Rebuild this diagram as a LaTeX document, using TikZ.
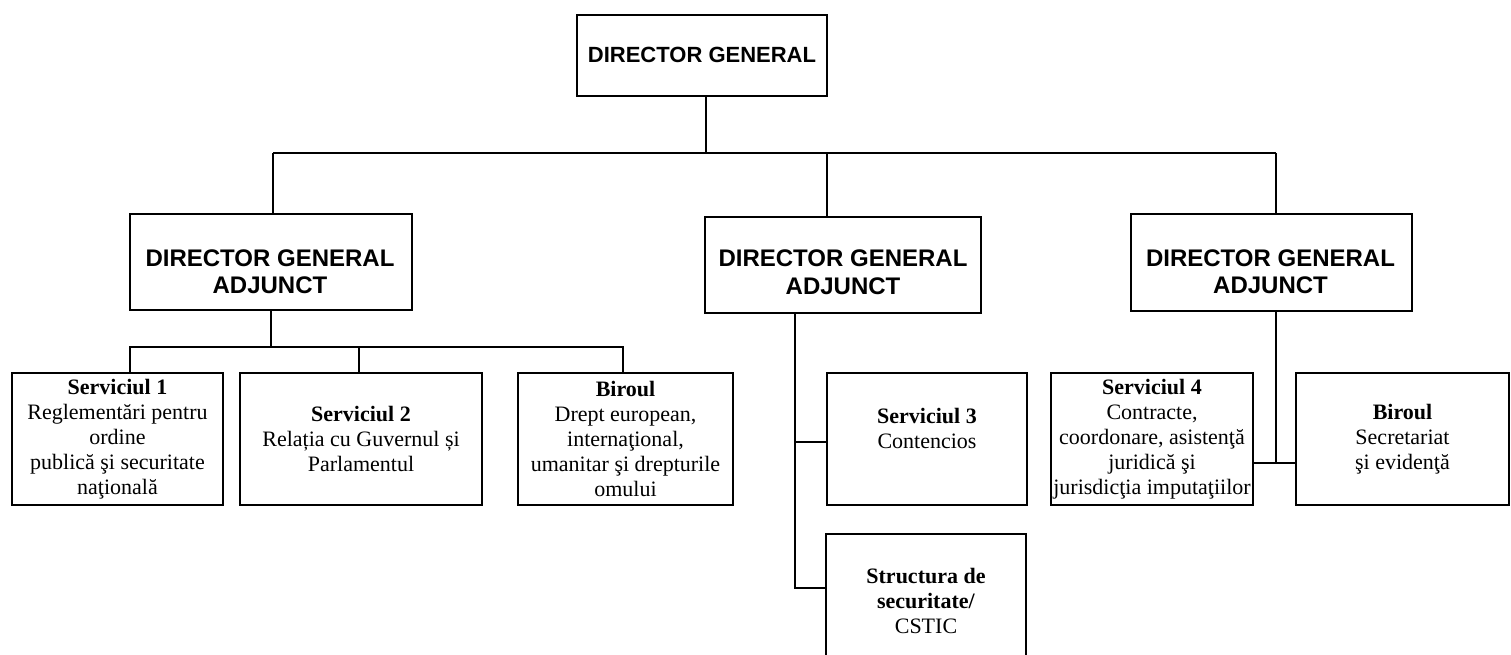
\documentclass[tikz,border=0pt]{standalone}
\usepackage{fontspec}
\setmainfont{Liberation Serif}
\newfontfamily\arialf{Liberation Sans}
\begin{document}
\begin{tikzpicture}[x=1pt,y=-1pt,
  box/.style={draw=black,line width=1.5pt,inner sep=0pt,align=center,
    font=\fontsize{22}{25}\selectfont},
  ttl/.style={inner sep=0pt,align=center,font=\arialf\bfseries\fontsize{22}{27.5}\selectfont},
  ttlb/.style={inner sep=0pt,align=center,font=\arialf\bfseries\fontsize{24}{27.5}\selectfont},
  txt/.style={inner sep=0pt,align=center,font=\fontsize{22}{25}\selectfont},
  link/.style={draw=black,line width=1.5pt}]
\clip (0,0) rectangle (1511,655);
\fill[white] (0,0) rectangle (1511,655);
% top
\node[box,minimum width=250,minimum height=81] (dg) at (702,55.5) {};
\node[ttl] (dgt) at (702,55) {DIRECTOR GENERAL};
% deputies
\node[box,minimum width=282,minimum height=96] (dga1) at (271,262) {};
\node[ttlb] (dga1t) at (270,271.5) {DIRECTOR GENERAL\\ADJUNCT};
\node[box,minimum width=276,minimum height=96] (dga2) at (843,265) {};
\node[ttlb] (dga2t) at (843,272) {DIRECTOR GENERAL\\ADJUNCT};
\node[box,minimum width=281,minimum height=97] (dga3) at (1271.5,262.5) {};
\node[ttlb] (dga3t) at (1270.5,271.5) {DIRECTOR GENERAL\\ADJUNCT};
% services
\node[box,minimum width=211,minimum height=132] (s1) at (117.5,439)
  {\textbf{Serviciul 1}\\Reglementări pentru\\ordine\\publică şi securitate\\naţională};
\node[box,minimum width=242,minimum height=132] (s2) at (361,439)
  {\textbf{Serviciul 2}\\Relația cu Guvernul și\\Parlamentul};
\node[box,minimum width=215,minimum height=132] (b1) at (625.5,439)
  {\textbf{Biroul}\\Drept european,\\internaţional,\\umanitar şi drepturile\\omului};
\node[box,minimum width=200,minimum height=132] (s3) at (927,439) {};
\node[txt] (s3t) at (927,428) {\textbf{Serviciul 3}\\Contencios};
\node[box,minimum width=200,minimum height=130] (st) at (926,599) {};
\node[txt] (stt) at (926,601) {\textbf{Structura de}\\\textbf{securitate/}\\CSTIC};
\node[box,minimum width=202,minimum height=132] (s4) at (1152,439)
  {\textbf{Serviciul 4}\\Contracte,\\coordonare, asistenţă\\juridică şi\\jurisdicţia imputaţiilor};
\node[box,minimum width=213,minimum height=132] (b2) at (1402.5,439)
  {\textbf{Biroul}\\Secretariat\\şi evidenţă};
% level 1 connectors
\coordinate (busL) at (273,153);
\coordinate (busR) at (1276,153);
\coordinate (busD) at (706,153);
\coordinate (busM) at (827,153);
\draw[link] (busL) -- (busR);
\draw[link] (dg.south -| busD) -- (busD);
\draw[link] (busL) -- (busL |- dga1.north);
\draw[link] (busM) -- (busM |- dga2.north);
\draw[link] (busR) -- (busR |- dga3.north);
% level 2 left
\coordinate (l2) at (271,347);
\coordinate (l2a) at (130,347);
\coordinate (l2b) at (359,347);
\coordinate (l2c) at (623,347);
\draw[link] (dga1.south) -- (l2);
\draw[link] (l2a |- s1.north) -- (l2a) -- (l2c) -- (l2c |- b1.north);
\draw[link] (l2b) -- (l2b |- s2.north);
% level 2 middle
\coordinate (mtop) at (795,313);
\coordinate (m1) at (795,442);
\coordinate (m2) at (795,588);
\draw[link] (mtop |- dga2.south) -- (m2) -- (m2 -| st.west);
\draw[link] (m1) -- (m1 -| s3.west);
% level 2 right
\coordinate (rj) at (1276,463);
\draw[link] (rj |- dga3.south) -- (rj);
\draw[link] (rj -| s4.east) -- (rj -| b2.west);
\end{tikzpicture}
\end{document}
